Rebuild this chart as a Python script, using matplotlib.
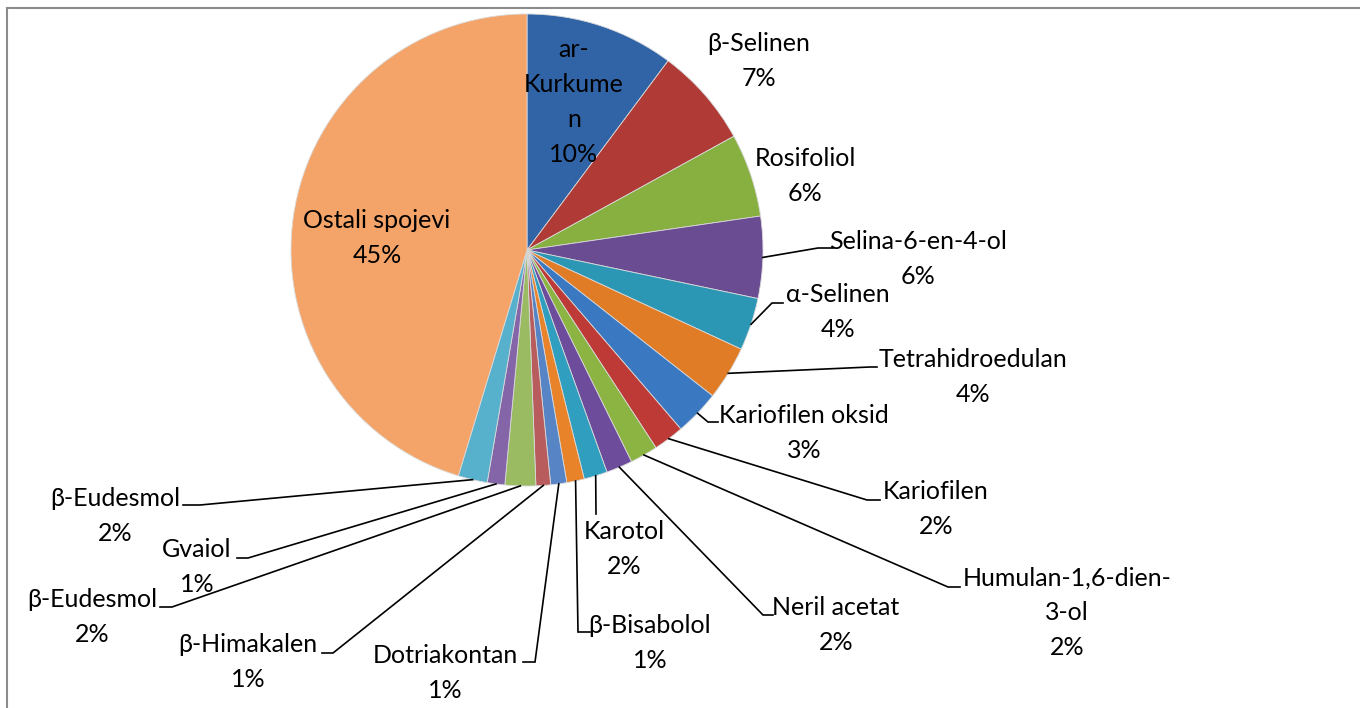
import matplotlib
matplotlib.use("Agg")
import matplotlib.pyplot as plt
from matplotlib.lines import Line2D
import numpy as np

plt.rcParams['font.family'] = ['Lato', 'DejaVu Sans']

# data (share of total, %)
compounds = ['ar-\nKurkume\nn', 'β-Selinen', 'Rosifoliol', 'Selina-6-en-4-ol', 'α-Selinen',
             'Tetrahidroedulan', 'Kariofilen oksid', 'Kariofilen', 'Humulan-1,6-dien-\n3-ol',
             'Neril acetat', 'Karotol', 'β-Bisabolol', 'Dotriakontan', 'β-Himakalen',
             'β-Eudesmol', 'Gvaiol', 'β-Eudesmol', 'Ostali spojevi']
shares = [10.2, 6.8, 5.7, 5.6, 3.6, 3.7, 3.1, 2.1, 1.9, 1.8, 1.6, 1.2, 1.1, 1.0,
          2.1, 1.2, 2.0, 45.3]

colors = ['#3164A6', '#AF3A36', '#88B040', '#6A4C93', '#2C97B5', '#E07B26',
          '#3B78C2', '#BE3A37', '#8CB443', '#6E4C9C', '#2F9EBF', '#E8832A',
          '#5684C4', '#B85C5E', '#9BBB63', '#8466A8', '#57B1CC', '#F4A468']

# layout in pixels: label centre, leader elbow + leader end x (None = no leader)
W, H = 1360, 708
cx, cy, R = 527, 250, 236
label_pos = [(574, 102), (759, 61), (805, 176), (918, 259), (838, 312), (973, 377),
             (804, 433), (936, 509), (1067, 613), (836, 625), (624, 549), (650, 643),
             (445, 673), (248, 662), (92, 617), (197, 567), (115, 516), (377, 238)]
elbows = [None, None, None, ((818, 248), 833), ((772, 303), 783), ((870, 367), 877),
          ((708, 422), 718), ((867, 500), 880), ((948, 587), 960), ((763, 615), 773),
          ((596, 514), 596), ((578, 632), 590), ((535, 662), 523), ((333, 653), 322),
          ((172, 607), 160), ((248, 558), 237), ((200, 505), 183), None]


def px(x, y):
    return (x - cx) / R, (cy - y) / R


fig = plt.figure(figsize=(W / 100, H / 100), dpi=100)
ax = fig.add_axes([0, 0, 1, 1])
ax.axis('off')

wedges, _ = ax.pie(shares, colors=colors, startangle=90, counterclock=False, radius=1,
                   wedgeprops=dict(edgecolor='#d9d9d9', linewidth=0.6))
ax.set_xlim(-cx / R, (W - cx) / R)
ax.set_ylim((cy - H) / R, cy / R)
ax.set_aspect('auto')

total = sum(shares)
for w, name, val, pos, el in zip(wedges, compounds, shares, label_pos, elbows):
    txt = '%s\n%.0f%%' % (name, val / total * 100)
    ax.text(*px(*pos), txt, ha='center', va='center', fontsize=18,
            linespacing=1.62, color='black')
    if el is not None:
        ang = np.deg2rad((w.theta1 + w.theta2) / 2)
        x0, y0 = np.cos(ang), np.sin(ang)
        (ex, ey), hx = el
        x1, y1 = px(ex, ey)
        x2, _ = px(hx, ey)
        ax.plot([x0, x1, x2], [y0, y1, y1], color='black', lw=1.2,
                solid_joinstyle='miter')

# chart area border (top and left visible)
fig.add_artist(Line2D([7 / W, 1], [1 - 8 / H, 1 - 8 / H], color='#8c8c8c', lw=1.5))
fig.add_artist(Line2D([7 / W, 7 / W], [0, 1 - 8 / H], color='#8c8c8c', lw=1.5))

fig.savefig('out.png', dpi=100)
